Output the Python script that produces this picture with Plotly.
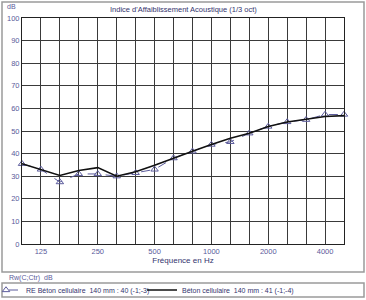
import plotly.graph_objects as go

freqs = ["100", "125", "160", "200", "250", "315", "400", "500", "630", "800",
         "1000", "1250", "1600", "2000", "2500", "3150", "4000", "5000"]
tick_text = ["", "125", "", "", "250", "", "", "500", "", "", "1000", "", "",
             "2000", "", "", "4000", ""]
re_vals = [35.5, 33.0, 27.4, 31.0, 31.0, 30.0, 31.5, 33.0, 38.0, 41.0, 44.0,
           45.2, 49.0, 52.0, 54.0, 55.0, 57.3, 57.3]
beton_vals = [35.5, 33.0, 30.3, 32.5, 33.8, 30.0, 32.0, 34.8, 38.0, 41.0, 44.0,
              46.8, 49.0, 52.0, 54.0, 55.3, 56.4, 56.8]
name_re = "RE Béton cellulaire  140 mm : 40 (-1;-3)"
name_beton = "Béton cellulaire  140 mm : 41 (-1;-4)"

W, H = 366, 300
FONT = "Liberation Sans, Arial, sans-serif"
LBL = "#5a5a9a"
NAVY = "#34346e"


def px(x):
    return x / W


def py(y):
    return (H - y) / H


fig = go.Figure()
fig.add_trace(go.Scatter(
    x=freqs, y=re_vals, name=name_re, mode="lines+markers", legend="legend",
    line=dict(color="#5c5c9c", width=1, dash="dash"),
    marker=dict(symbol="triangle-up-open", size=6.5, color="#5c5c9c",
                line=dict(width=1)),
    cliponaxis=False,
))
fig.add_trace(go.Scatter(
    x=freqs, y=beton_vals, name=name_beton, mode="lines", legend="legend2",
    line=dict(color="#111111", width=1.6),
))

leg_common = dict(
    orientation="h", xanchor="left", y=py(290), yanchor="middle",
    font=dict(size=7, color=NAVY, family=FONT), bgcolor="rgba(0,0,0,0)",
    itemwidth=30,
)

fig.update_layout(
    width=W, height=H,
    margin=dict(l=0, r=0, t=0, b=0, autoexpand=False),
    paper_bgcolor="white", plot_bgcolor="white",
    font=dict(family=FONT, size=7, color=NAVY),
    xaxis=dict(
        type="category", domain=[px(22), px(344)], range=[0, 17],
        tickmode="array", tickvals=freqs, ticktext=tick_text,
        showgrid=True, gridcolor="#3a3a3a", gridwidth=1,
        showline=True, linecolor="#222", linewidth=1, mirror=True,
        ticks="",
        tickfont=dict(size=7.5, color=LBL, family=FONT),
        title=dict(text="Fréquence en Hz", font=dict(size=8, color=NAVY, family=FONT),
                   standoff=0),
        automargin=True,
    ),
    yaxis=dict(
        range=[0, 100], dtick=10, domain=[py(244), py(18)],
        showgrid=True, gridcolor="#3a3a3a", gridwidth=1, zeroline=False,
        showline=True, linecolor="#222", linewidth=1, mirror=True,
        ticks="", tickfont=dict(size=7.5, color=LBL, family=FONT),
        automargin=False,
    ),
    showlegend=True,
    legend=dict(x=px(-14), **leg_common),
    legend2=dict(x=px(142), **leg_common),
    shapes=[
        dict(type="rect", xref="paper", yref="paper", x0=px(2), x1=px(364),
             y0=py(272), y1=py(2), line=dict(color="#9a9a9a", width=1.5), layer="below"),
        dict(type="rect", xref="paper", yref="paper", x0=px(2), x1=px(364),
             y0=py(297), y1=py(283), line=dict(color="#9a9a9a", width=1.5), layer="below"),
    ],
    annotations=[
        dict(text="Indice d'Affaiblissement Acoustique (1/3 oct)", xref="paper", yref="paper",
             x=px(183), y=py(10), xanchor="center", yanchor="middle", showarrow=False,
             font=dict(size=7.5, color=NAVY, family=FONT)),
        dict(text="dB", xref="paper", yref="paper", x=px(5), y=py(6),
             xanchor="left", yanchor="middle", showarrow=False,
             font=dict(size=7, color=LBL, family=FONT)),
        dict(text="Rw(C;Ctr)  dB", xref="paper", yref="paper", x=px(7), y=py(278),
             xanchor="left", yanchor="middle", showarrow=False,
             font=dict(size=7, color=LBL, family=FONT)),
    ],
)

fig.write_html("out.html")
